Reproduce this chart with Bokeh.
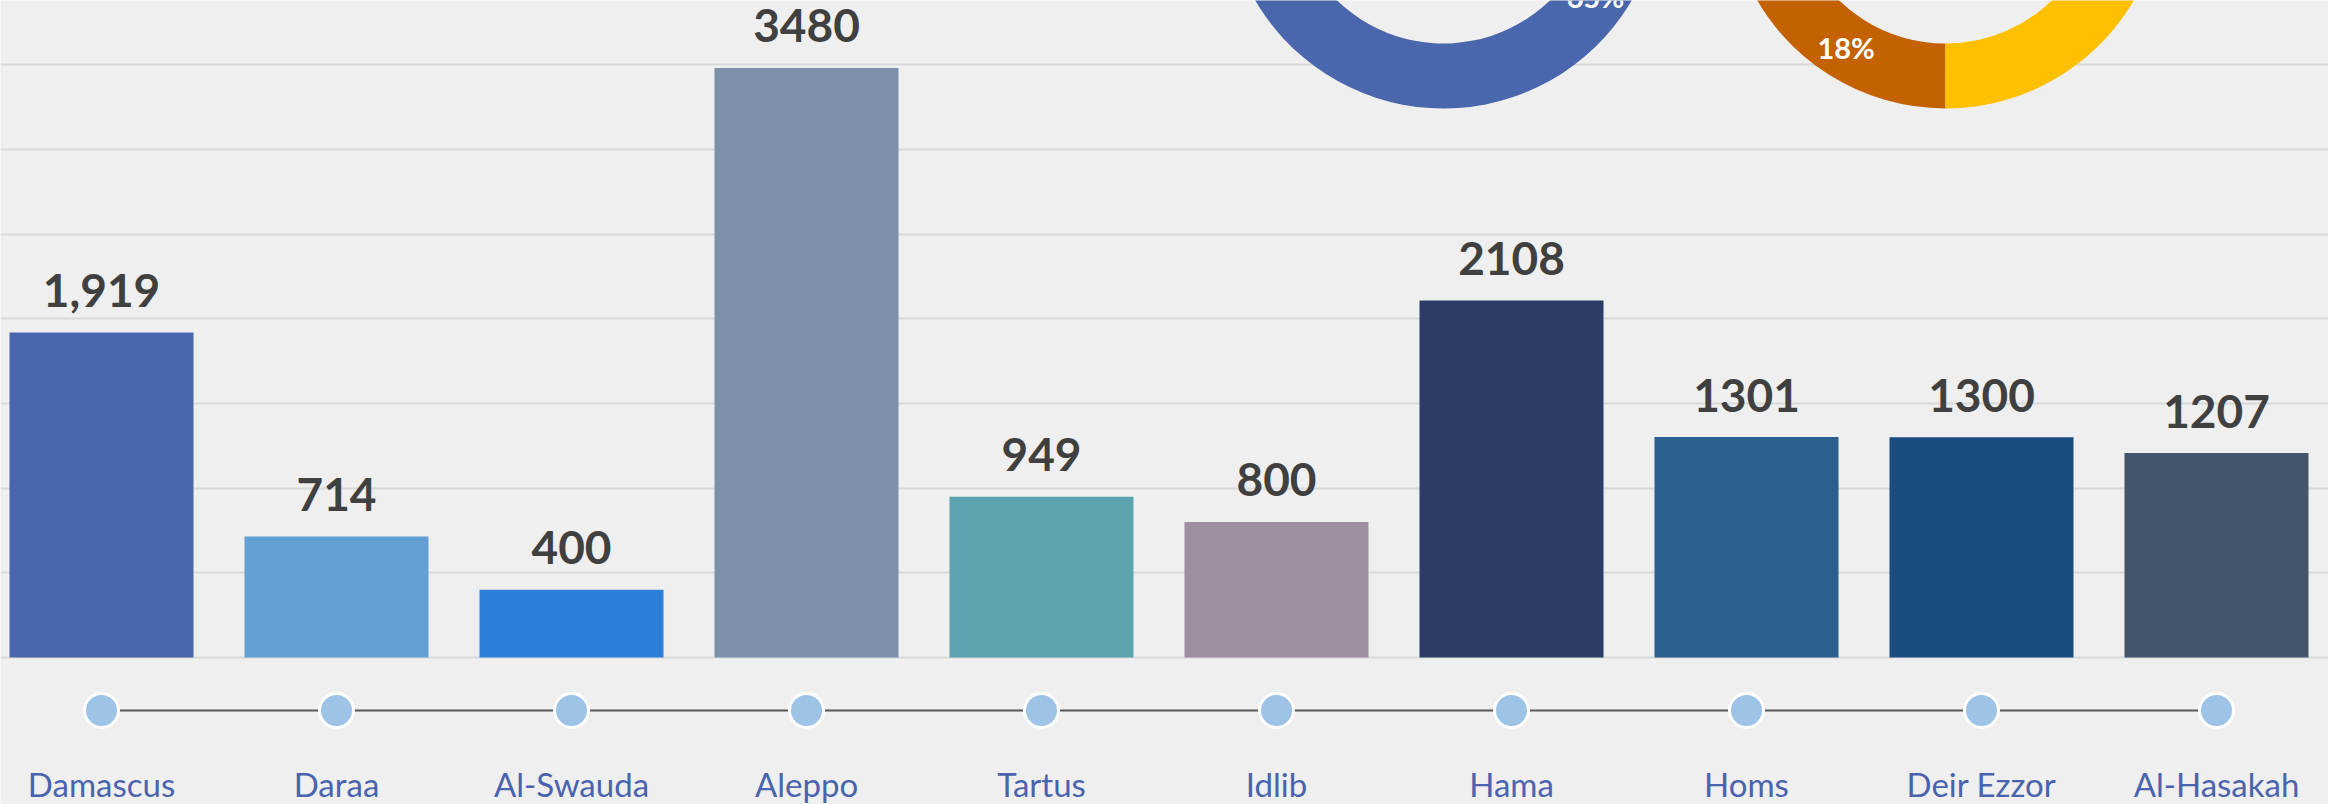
import numpy as np
from bokeh.plotting import figure
from bokeh.models import Range1d, Grid, FixedTicker
from bokeh.core.properties import value
from bokeh.embed import file_html
from bokeh.resources import INLINE

# ---------------- data ----------------
cities = ["Damascus", "Daraa", "Al-Swauda", "Aleppo", "Tartus",
          "Idlib", "Hama", "Homs", "Deir Ezzor", "Al-Hasakah"]
counts = [1919, 714, 400, 3480, 949, 800, 2108, 1301, 1300, 1207]
count_labels = ["1,919", "714", "400", "3480", "949", "800",
                "2108", "1301", "1300", "1207"]
grid_values = [0, 500, 1000, 1500, 2000, 2500, 3000, 3500]

donut1_shares = [65, 35]
donut1_labels = ["65%", ""]
donut2_shares = [18, 82]
donut2_labels = ["18%", ""]

# ---------------- styles ----------------
bar_colors = ["#4A66AC", "#629FD2", "#2B7FD8", "#7E8FA9", "#5AA3AF",
              "#9D8F9F", "#2C3C67", "#2B5F8D", "#1B4C80", "#44546A"]
donut1_colors = ["#4A66AC", "#A5A5A5"]
donut2_colors = ["#C46100", "#FFC000"]
BG = "#EFEFEF"

# ---------------- layout ----------------
W, H = 2328, 804
PX_PER_UNIT = 84.7 / 500.0
BASE_PX = 657          # baseline distance from top (px)
SLOT_PX = 235          # category spacing (px)
FIRST_PX = 101         # first category centre (px)
TL_Y = 710             # timeline (px from top)
LABEL_Y = 783          # category label centre (px from top)
R_IN, R_OUT = 153, 218
DONUT_Y = -110
DONUT1_X, DONUT2_X = 1443, 1945

x_range = Range1d(-FIRST_PX / SLOT_PX, (W - FIRST_PX) / SLOT_PX)
y_range = Range1d(-(H - BASE_PX) / PX_PER_UNIT, BASE_PX / PX_PER_UNIT)

p = figure(width=W, height=H, x_range=x_range, y_range=y_range,
           output_backend="svg", toolbar_location=None,
           x_axis_type=None, y_axis_type=None, min_border=0,
           background_fill_color=BG, border_fill_color=BG,
           outline_line_color=None)
p.extra_x_ranges = {"px": Range1d(0, W)}
p.extra_y_ranges = {"px": Range1d(H, 0)}

p.add_layout(Grid(dimension=1, ticker=FixedTicker(ticks=grid_values),
                  grid_line_color="#D9D9D9", grid_line_width=2))

idx = np.arange(len(cities))

# bars
p.vbar(x=idx, top=counts, bottom=0, width=0.783,
       fill_color=bar_colors, line_color=None)

# value labels
p.text(x=idx, y=counts, text=count_labels, text_align="center",
       text_baseline="middle", y_offset=-42,
       text_font=value("Lato"), text_font_style="bold",
       text_font_size="46px", text_color="#404040")

# timeline
p.line(x=idx, y=[TL_Y] * len(idx), y_range_name="px",
       line_color="#595959", line_width=2)
p.scatter(x=idx, y=[TL_Y] * len(idx), y_range_name="px", marker="circle",
          size=34, fill_color="#9DC3E6", line_color="white", line_width=3)

# category labels
p.text(x=idx, y=[LABEL_Y] * len(idx), y_range_name="px", text=cities,
       text_align="center", text_baseline="middle",
       text_font=value("Lato"), text_font_size="33px", text_color="#4A63AE")


def draw_donut(shares, labels, colors, cx, start_deg):
    frac = np.cumsum([0] + list(shares)) / float(sum(shares)) * 360.0
    starts = np.radians(start_deg - frac[:-1])
    ends = np.radians(start_deg - frac[1:])
    n = len(shares)
    p.annular_wedge(x=[cx] * n, y=[DONUT_Y] * n,
                    inner_radius=R_IN, outer_radius=R_OUT,
                    inner_radius_units="screen", outer_radius_units="screen",
                    start_angle=starts, end_angle=ends, direction="clock",
                    fill_color=colors, line_color=None,
                    x_range_name="px", y_range_name="px")
    mids = (starts + ends) / 2.0
    rm = (R_IN + R_OUT) / 2.0
    lx = cx + rm * np.cos(mids)
    ly = DONUT_Y - rm * np.sin(mids)
    keep = [i for i in range(n) if labels[i]]
    p.text(x=[lx[i] for i in keep], y=[ly[i] for i in keep],
           text=[labels[i] for i in keep],
           x_range_name="px", y_range_name="px",
           text_align="center", text_baseline="middle",
           text_font=value("Lato"), text_font_style="bold",
           text_font_size="29px", text_color="white")


draw_donut(donut1_shares, donut1_labels, donut1_colors, DONUT1_X, 82.0)
draw_donut(donut2_shares, donut2_labels, donut2_colors, DONUT2_X, -90.0)

html = file_html(p, INLINE)
html = html.replace("<body>", '<body style="background-color:#EFEFEF;">', 1)
open("out.html", "w").write(html)
